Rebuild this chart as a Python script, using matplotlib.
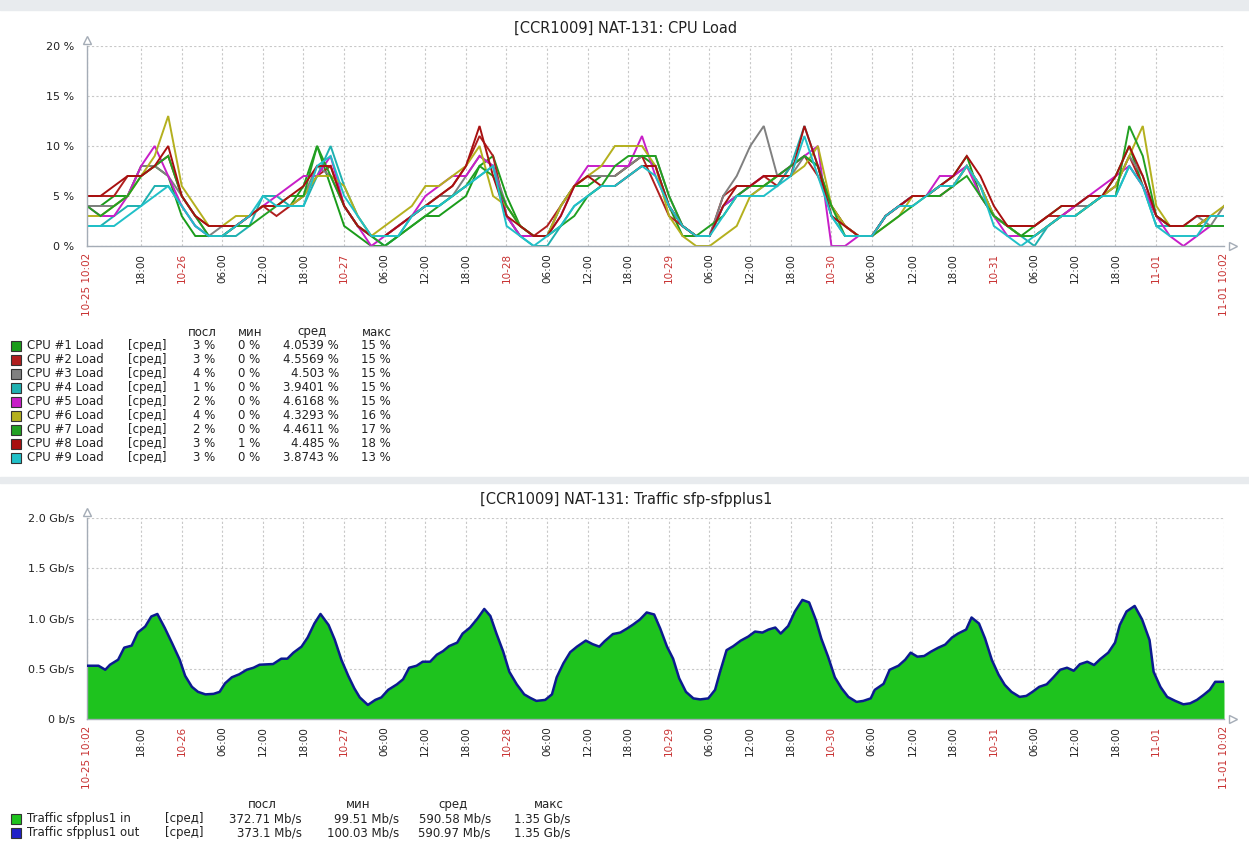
import numpy as np
import pandas as pd
import matplotlib
matplotlib.use('Agg')
import matplotlib.pyplot as plt
from matplotlib.patches import Rectangle
from matplotlib.transforms import Affine2D

W, H = 1249, 849

# ---- CPU load, % (one value every 2 hours from 10-25 10:02) ----
cpu_hours = np.arange(0, 169, 2)

cpu1 = [4, 4, 5, 5, 8, 8, 7,
        3, 1, 1, 1, 2, 3, 4, 4, 4, 6, 10, 6,
        2, 1, 0, 0, 1, 2, 3, 3, 4, 5, 8, 9,
        5, 2, 1, 1, 4, 6, 6, 7, 7, 8, 9, 8,
        4, 1, 1, 1, 4, 5, 6, 6, 7, 8, 9, 8,
        4, 2, 1, 1, 3, 4, 5, 5, 6, 7, 9, 5,
        3, 2, 1, 2, 3, 4, 4, 5, 5, 7, 10, 6,
        3, 2, 2, 2, 3, 3]
cpu2 = [5, 5, 5, 7, 7, 8, 9,
        5, 3, 2, 2, 2, 3, 4, 3, 4, 5, 7, 8,
        4, 2, 1, 1, 2, 3, 4, 5, 6, 8, 11, 9,
        3, 1, 1, 2, 4, 6, 7, 7, 7, 8, 9, 6,
        3, 2, 1, 1, 5, 6, 6, 7, 6, 8, 9, 7,
        4, 2, 1, 1, 3, 4, 5, 5, 5, 6, 8, 6,
        3, 2, 2, 2, 3, 3, 4, 4, 5, 6, 9, 6,
        3, 2, 2, 2, 3, 3]
cpu3 = [4, 4, 4, 5, 8, 8, 7,
        5, 3, 1, 2, 2, 3, 4, 4, 4, 5, 8, 7,
        4, 2, 1, 1, 2, 3, 4, 5, 5, 7, 9, 8,
        4, 2, 1, 1, 4, 6, 7, 7, 7, 8, 9, 9,
        5, 2, 1, 1, 5, 7, 10, 12, 7, 7, 9, 8,
        3, 2, 1, 1, 3, 4, 5, 5, 6, 7, 8, 6,
        3, 2, 1, 1, 2, 3, 4, 4, 5, 6, 9, 7,
        3, 2, 2, 3, 2, 4]
cpu4 = [2, 2, 3, 4, 4, 6, 6,
        4, 2, 1, 1, 1, 2, 5, 5, 4, 4, 7, 10,
        6, 3, 1, 0, 1, 3, 4, 4, 5, 6, 7, 8,
        3, 1, 0, 0, 2, 4, 5, 6, 6, 7, 8, 8,
        4, 2, 1, 1, 4, 5, 5, 6, 6, 8, 12, 8,
        3, 1, 1, 1, 3, 4, 5, 5, 6, 6, 8, 6,
        3, 2, 1, 0, 2, 3, 3, 4, 5, 5, 8, 6,
        2, 2, 2, 2, 2, 2]
cpu5 = [4, 3, 3, 5, 8, 10, 7,
        4, 2, 1, 1, 2, 3, 4, 5, 6, 7, 7, 9,
        4, 2, 0, 1, 2, 3, 5, 6, 7, 7, 9, 8,
        3, 1, 1, 1, 3, 6, 8, 8, 8, 8, 11, 7,
        4, 2, 1, 1, 4, 5, 6, 7, 7, 8, 9, 10,
        0, 0, 1, 1, 3, 4, 5, 5, 7, 7, 8, 5,
        3, 1, 1, 1, 2, 3, 4, 5, 6, 7, 8, 6,
        3, 1, 0, 1, 2, 2]
cpu6 = [3, 3, 4, 5, 7, 9, 13,
        6, 4, 2, 2, 3, 3, 4, 4, 4, 5, 7, 7,
        6, 3, 1, 2, 3, 4, 6, 6, 7, 8, 10, 5,
        4, 2, 1, 1, 4, 6, 7, 8, 10, 10, 10, 8,
        3, 1, 0, 0, 1, 2, 5, 6, 7, 7, 8, 10,
        4, 2, 1, 1, 2, 3, 5, 5, 6, 6, 8, 6,
        3, 2, 1, 1, 2, 3, 3, 4, 5, 6, 9, 12,
        4, 2, 2, 2, 3, 4]
cpu7 = [4, 3, 4, 5, 7, 8, 9,
        5, 3, 1, 1, 2, 2, 3, 4, 5, 5, 10, 7,
        4, 2, 1, 0, 1, 2, 3, 4, 5, 6, 8, 7,
        4, 2, 1, 1, 2, 3, 5, 6, 8, 9, 9, 9,
        5, 2, 1, 2, 3, 5, 6, 6, 7, 8, 9, 8,
        4, 1, 1, 1, 2, 3, 4, 5, 5, 6, 7, 5,
        3, 2, 1, 1, 2, 3, 3, 4, 5, 5, 12, 9,
        3, 2, 2, 2, 2, 2]
cpu8 = [5, 5, 6, 7, 7, 8, 10,
        5, 3, 2, 2, 2, 3, 4, 4, 5, 6, 8, 8,
        4, 2, 1, 1, 2, 3, 4, 5, 6, 8, 12, 7,
        3, 2, 1, 1, 3, 6, 7, 6, 6, 7, 8, 8,
        4, 2, 1, 1, 4, 6, 6, 7, 7, 7, 12, 8,
        3, 2, 1, 1, 3, 4, 5, 5, 6, 7, 9, 7,
        4, 2, 2, 2, 3, 4, 4, 5, 5, 7, 10, 7,
        3, 2, 2, 3, 3, 3]
cpu9 = [2, 2, 2, 3, 4, 5, 6,
        4, 2, 1, 1, 2, 3, 5, 4, 4, 4, 8, 9,
        5, 3, 1, 1, 1, 3, 4, 4, 5, 6, 7, 8,
        2, 1, 0, 1, 2, 4, 5, 6, 6, 7, 8, 7,
        4, 2, 1, 1, 3, 5, 5, 5, 6, 7, 11, 7,
        3, 1, 1, 1, 3, 4, 4, 5, 6, 6, 8, 6,
        2, 1, 0, 1, 2, 3, 3, 4, 5, 5, 8, 6,
        2, 1, 1, 1, 3, 3]

cpu_series = [cpu1, cpu2, cpu3, cpu4, cpu5, cpu6, cpu7, cpu8, cpu9]
cpu_names = ['CPU #%d Load' % (i + 1) for i in range(9)]
cpu_colors = ['#1a9c1a', '#b01e1e', '#808080', '#1eb0b0', '#c81ec8',
              '#b4b01e', '#22a022', '#a81010', '#20c0c8']
cpu_last = ['3 %', '3 %', '4 %', '1 %', '2 %', '4 %', '2 %', '3 %', '3 %']
cpu_min = ['0 %', '0 %', '0 %', '0 %', '0 %', '0 %', '0 %', '1 %', '0 %']
cpu_avg = ['4.0539 %', '4.5569 %', '4.503 %', '3.9401 %', '4.6168 %',
           '4.3293 %', '4.4611 %', '4.485 %', '3.8743 %']
cpu_max = ['15 %', '15 %', '15 %', '15 %', '15 %', '16 %', '17 %', '18 %', '13 %']

# ---- Traffic sfpplus1, Gb/s (hours from 10-25 10:02) ----
traffic_hours = [0, 1.7, 2.7, 3.4, 4.6, 5.5, 6.6, 7.5, 8.6, 9.5, 10.4, 11.5,
                 12.6, 13.7, 14.5, 15.5, 16.4, 17.5, 18.7, 19.6, 20.4, 21.4,
                 22.5, 23.6, 24.6, 25.5, 27.5, 28.7, 29.6, 30.5, 31.7, 32.6,
                 33.6, 34.5, 35.7, 36.6, 37.6, 38.6, 39.5, 40.3, 41.5, 42.6,
                 43.5, 44.5, 45.8, 46.7, 47.6, 48.7, 49.6, 50.7, 51.7, 52.6,
                 53.5, 54.7, 55.5, 56.6, 57.7, 58.7, 59.6, 60.5, 61.5, 62.4,
                 63.5, 64.6, 65.5, 66.4, 67.7, 68.7, 69.4, 70.4, 71.4, 72.4,
                 73.7, 74.7, 75.7, 76.5, 77.7, 78.8, 79.8, 80.7, 81.7, 82.7,
                 83.8, 84.7, 85.7, 86.6, 87.5, 88.5, 89.6, 90.6, 91.8, 92.8,
                 93.5, 94.5, 95.5, 96.6, 97.7, 98.7, 99.8, 100.7, 101.7, 102.5,
                 103.6, 104.6, 105.7, 106.7, 107.7, 108.5, 109.5, 110.5, 111.5,
                 112.5, 113.7, 114.7, 115.8, 116.4, 117.7, 118.6, 119.9, 120.9,
                 121.7, 122.7, 123.7, 124.7, 125.8, 126.8, 127.8, 128.7, 129.9,
                 130.7, 131.8, 132.7, 133.7, 134.7, 135.6, 136.6, 137.8, 138.8,
                 139.7, 140.7, 141.8, 142.8, 143.8, 144.8, 145.8, 146.7, 147.8,
                 148.8, 149.7, 150.9, 151.9, 152.6, 153.6, 154.8, 155.9, 157.0,
                 157.6, 158.6, 159.6, 160.8, 162.0, 163.0, 164.0, 165.0, 165.9,
                 166.7, 168.0]
traffic_in = [0.53, 0.53, 0.49, 0.54, 0.59, 0.71, 0.73, 0.86, 0.92, 1.02, 1.045, 0.905,
              0.75, 0.59, 0.43, 0.32, 0.27, 0.245, 0.25, 0.27, 0.355, 0.415,
              0.445, 0.49, 0.51, 0.54, 0.547, 0.60, 0.60, 0.66, 0.72, 0.81,
              0.95, 1.045, 0.935, 0.79, 0.587, 0.43, 0.305, 0.215, 0.14, 0.19,
              0.215, 0.29, 0.345, 0.395, 0.51, 0.53, 0.57, 0.57, 0.64, 0.675,
              0.725, 0.76, 0.85, 0.91, 1.0, 1.095, 1.025, 0.85, 0.67, 0.47,
              0.345, 0.245, 0.21, 0.18, 0.19, 0.245, 0.415, 0.555, 0.665, 0.72,
              0.78, 0.745, 0.72, 0.775, 0.845, 0.86, 0.90, 0.94, 0.99, 1.06,
              1.04, 0.90, 0.72, 0.60, 0.405, 0.27, 0.205, 0.195, 0.205, 0.29,
              0.46, 0.685, 0.725, 0.78, 0.82, 0.87, 0.86, 0.89, 0.91, 0.85,
              0.925, 1.07, 1.185, 1.16, 0.985, 0.80, 0.62, 0.415, 0.305,
              0.22, 0.17, 0.18, 0.205, 0.29, 0.35, 0.49, 0.53, 0.59,
              0.66, 0.62, 0.627, 0.67, 0.71, 0.74, 0.81, 0.85, 0.89,
              1.01, 0.95, 0.80, 0.587, 0.44, 0.34, 0.27, 0.22, 0.23,
              0.27, 0.32, 0.345, 0.415, 0.49, 0.51, 0.48, 0.545, 0.57,
              0.537, 0.595, 0.66, 0.76, 0.935, 1.07, 1.125, 0.99, 0.785,
              0.47, 0.32, 0.22, 0.18, 0.146, 0.156, 0.19, 0.24, 0.29,
              0.37, 0.37]
traffic_out = traffic_in  # drawn on top of "in", indistinguishable

traffic_names = ['Traffic sfpplus1 in', 'Traffic sfpplus1 out']
traffic_colors = ['#1ec31e', '#2020c8']
traffic_last = ['372.71 Mb/s', '373.1 Mb/s']
traffic_min = ['99.51 Mb/s', '100.03 Mb/s']
traffic_avg = ['590.58 Mb/s', '590.97 Mb/s']
traffic_max = ['1.35 Gb/s', '1.35 Gb/s']

# ---- time axis ticks ----
start = pd.Timestamp('2019-10-25 10:02')
end = start + pd.Timedelta(days=7)
six = pd.date_range('2019-10-25 18:00', '2019-11-01 00:00', freq='6h')
tick_hours = [0.0] + [(t - start) / pd.Timedelta(hours=1) for t in six] + [168.0]
tick_labels = [start.strftime('%m-%d %H:%M')]
tick_colors = ['#c83232']
for t in six:
    if t.hour == 0:
        tick_labels.append(t.strftime('%m-%d'))
        tick_colors.append('#c83232')
    else:
        tick_labels.append(t.strftime('%H:%M'))
        tick_colors.append('#222222')
tick_labels.append(end.strftime('%m-%d %H:%M'))
tick_colors.append('#c83232')

fig = plt.figure(figsize=(W / 100, H / 100), dpi=100)
fig.patch.set_facecolor('white')
px = Affine2D().scale(1 / W, -1 / H).translate(0, 1) + fig.transFigure

# page background bands
fig.patches.append(Rectangle((0, 0), W, 10, transform=px, color='#e8ebee', zorder=0))
fig.patches.append(Rectangle((0, 477), W, 6, transform=px, color='#e8ebee', zorder=0))

axis_col = '#a4acb6'


def setup_axes(ax, ymax, yvals, ylabels):
    ax.set_xlim(0, 168)
    ax.set_ylim(0, ymax)
    ax.set_xticks(tick_hours, tick_labels, rotation=90, fontsize=7.5,
                  va='top', ha='center')
    for lab, c in zip(ax.get_xticklabels(), tick_colors):
        lab.set_color(c)
    ax.set_yticks(yvals, ylabels, fontsize=8, color='#222222')
    ax.tick_params(axis='x', length=0, pad=5)
    ax.tick_params(axis='y', length=0, pad=9)
    ax.grid(True, color='#c8c8c8', linestyle=(0, (2, 2)), linewidth=0.8)
    ax.set_axisbelow(True)
    for s in ['top', 'right']:
        ax.spines[s].set_visible(False)
    for s in ['left', 'bottom']:
        ax.spines[s].set_color(axis_col)
        ax.spines[s].set_linewidth(1)
    ax.plot([0], [1.03], marker='^', ms=6, mfc='white', mec=axis_col,
            transform=ax.transAxes, clip_on=False)
    ax.plot([1.008], [0], marker='>', ms=6, mfc='white', mec=axis_col,
            transform=ax.transAxes, clip_on=False)


def legend(rows_y, header_y, names, colors, cols, col_x, head_x, avg_x):
    heads = ['посл', 'мин', 'сред', 'макс']
    for hx, ht in zip(head_x, heads):
        fig.text(hx, header_y, ht, transform=px, ha='center', va='center',
                 fontsize=8.5, color='#222222')
    for i, (y, name, col) in enumerate(zip(rows_y, names, colors)):
        fig.patches.append(Rectangle((11, y - 5), 10, 10, transform=px,
                                     facecolor=col, edgecolor='#333333', lw=0.8))
        fig.text(27, y, name, transform=px, va='center', fontsize=8.5, color='#222222')
        fig.text(avg_x, y, '[сред]', transform=px, va='center', fontsize=8.5,
                 color='#222222')
        for cx, vals in zip(col_x, cols):
            fig.text(cx, y, vals[i], transform=px, ha='right', va='center',
                     fontsize=8.5, color='#222222')


# ---- CPU chart ----
ax1 = fig.add_axes([87 / W, 1 - 246 / H, 1137 / W, 200 / H])
setup_axes(ax1, 20, [0, 5, 10, 15, 20], ['0 %', '5 %', '10 %', '15 %', '20 %'])
for vals, col in zip(cpu_series, cpu_colors):
    assert len(vals) == len(cpu_hours)
    ax1.plot(cpu_hours, vals, color=col, lw=1.4, solid_joinstyle='miter')
fig.text(626, 28, '[CCR1009] NAT-131: CPU Load', transform=px, ha='center',
         va='center', fontsize=10.5, color='#222222')
legend([346 + 14 * i for i in range(9)], 332, cpu_names, cpu_colors,
       [cpu_last, cpu_min, cpu_avg, cpu_max], [215, 260, 339, 391],
       [202, 250, 312, 377], 128)

# ---- Traffic chart ----
ax2 = fig.add_axes([87 / W, 1 - 719 / H, 1137 / W, 201 / H])
setup_axes(ax2, 2.0, [0, 0.5, 1.0, 1.5, 2.0],
           ['0 b/s', '0.5 Gb/s', '1.0 Gb/s', '1.5 Gb/s', '2.0 Gb/s'])
ax2.fill_between(traffic_hours, traffic_in, 0, color=traffic_colors[0], lw=0,
                 zorder=2)
ax2.plot(traffic_hours, traffic_out, color='#0c1a90', lw=1.8, zorder=3)
fig.text(626, 500, '[CCR1009] NAT-131: Traffic sfp-sfpplus1', transform=px,
         ha='center', va='center', fontsize=10.5, color='#222222')
legend([819, 833], 805, traffic_names, traffic_colors,
       [traffic_last, traffic_min, traffic_avg, traffic_max],
       [302, 399, 491, 571], [262, 358, 453, 549], 165)

fig.savefig('out.png', dpi=100)
